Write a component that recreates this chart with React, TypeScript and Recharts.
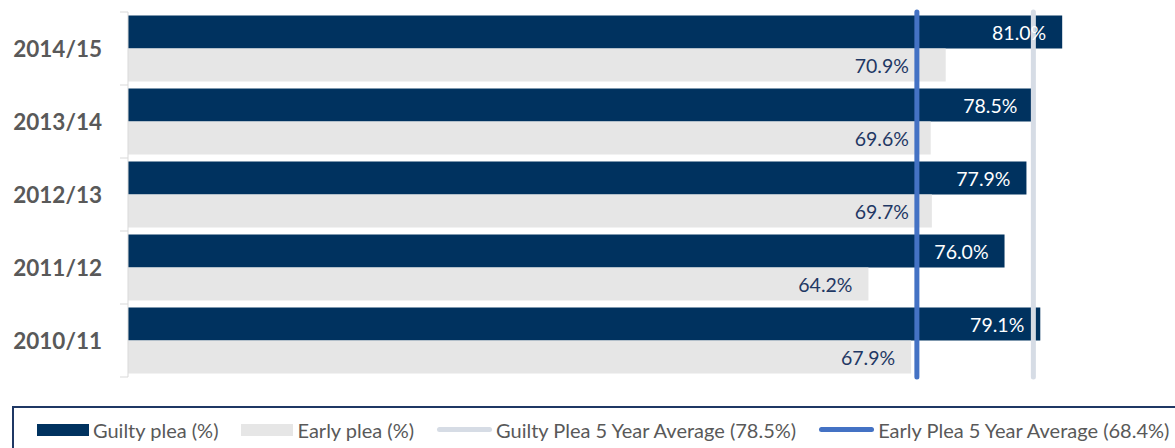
import React from 'react'
import { BarChart, Bar, XAxis, YAxis, ReferenceLine, LabelList, Legend } from 'recharts'

const YEARS = ['2014/15', '2013/14', '2012/13', '2011/12', '2010/11']
const GUILTY_PLEA = [81.0, 78.5, 77.9, 76.0, 79.1]
const EARLY_PLEA = [70.9, 69.6, 69.7, 64.2, 67.9]
const GUILTY_AVG = 78.5
const EARLY_AVG = 68.4

const COLORS = {
  guilty: '#00325F',
  early: '#E6E6E6',
  guiltyAvg: '#D6DCE5',
  earlyAvg: '#4472C4',
  axis: '#D9D9D9',
  text: '#595959',
  earlyLabel: '#1F3864',
}

const FONT = 'Lato, "Open Sans", sans-serif'

const WIDTH = 1175
const HEIGHT = 448
const MARGIN = { top: 12, right: 9, bottom: 29, left: 0 }
const LEGEND_H = 42
const Y_AXIS_W = 128
const X_MAX = 90

const data = YEARS.map((year, i) => ({
  year,
  guilty: GUILTY_PLEA[i],
  early: EARLY_PLEA[i],
}))

const plotH = HEIGHT - MARGIN.top - MARGIN.bottom - LEGEND_H
const bandHalf = plotH / YEARS.length / 2
const plotW = WIDTH - MARGIN.left - MARGIN.right - Y_AXIS_W
const earlyAvgX = MARGIN.left + Y_AXIS_W + (EARLY_AVG / X_MAX) * plotW

const fmt = (v: number) => `${v.toFixed(1)}%`

function YearTick(props: any) {
  const { x, y, payload, index } = props
  return (
    <g>
      <line x1={x - 8} x2={x} y1={y - bandHalf} y2={y - bandHalf} stroke={COLORS.axis} />
      {index === YEARS.length - 1 ? (
        <line x1={x - 8} x2={x} y1={y + bandHalf} y2={y + bandHalf} stroke={COLORS.axis} />
      ) : null}
      <text
        x={x - 26}
        y={y}
        textAnchor="end"
        dominantBaseline="central"
        fill={COLORS.text}
        fontSize={22.5}
        fontWeight={700}
        fontFamily={FONT}
      >
        {payload.value}
      </text>
    </g>
  )
}

// inside-end label; pushed left of the early average line if it would sit on it
function makeLabel(color: string, avoidLine: boolean) {
  return function BarLabel(props: any) {
    const { x, y, width, height, value } = props
    let end = x + width - 16
    if (avoidLine && end > earlyAvgX - 12 && end - 55 < earlyAvgX) {
      end = Math.min(end, earlyAvgX - 8)
    }
    return (
      <text
        x={end}
        y={y + height / 2}
        textAnchor="end"
        dominantBaseline="central"
        fill={color}
        fontSize={19.5}
        fontFamily={FONT}
      >
        {fmt(Number(value))}
      </text>
    )
  }
}

const LEGEND_ITEMS = [
  { label: 'Guilty plea (%)', color: COLORS.guilty, kind: 'rect' },
  { label: 'Early plea (%)', color: COLORS.early, kind: 'rect' },
  { label: `Guilty Plea 5 Year Average (${fmt(GUILTY_AVG)})`, color: COLORS.guiltyAvg, kind: 'line' },
  { label: `Early Plea 5 Year Average (${fmt(EARLY_AVG)})`, color: COLORS.earlyAvg, kind: 'line' },
]

function LegendBox() {
  return (
    <div
      style={{
        boxSizing: 'border-box',
        width: WIDTH,
        height: 60,
        borderTop: '2px solid #1F3864',
        borderLeft: '2px solid #1F3864',
        display: 'flex',
        alignItems: 'center',
        paddingLeft: 23,
        paddingBottom: 15,
        fontFamily: FONT,
        fontSize: 20,
        color: COLORS.text,
      }}
    >
      {LEGEND_ITEMS.map((item) => (
        <div key={item.label} style={{ display: 'flex', alignItems: 'center', marginRight: 23 }}>
          {item.kind === 'rect' ? (
            <span style={{ display: 'inline-block', width: 52, height: 12, background: item.color }} />
          ) : (
            <span
              style={{ display: 'inline-block', width: 55, height: 5, borderRadius: 3, background: item.color }}
            />
          )}
          <span style={{ marginLeft: 4, whiteSpace: 'nowrap' }}>{item.label}</span>
        </div>
      ))}
    </div>
  )
}

export default function App() {
  return (
    <div
      style={{
        position: 'absolute',
        left: 0,
        top: 0,
        width: WIDTH,
        height: HEIGHT,
        overflow: 'hidden',
        background: '#fff',
      }}
    >
      <BarChart
        width={WIDTH}
        height={HEIGHT}
        data={data}
        layout="vertical"
        margin={MARGIN}
        barCategoryGap={3.5}
        barGap={0}
      >
        <XAxis type="number" domain={[0, X_MAX]} hide />
        <YAxis
          type="category"
          dataKey="year"
          width={Y_AXIS_W}
          axisLine={{ stroke: COLORS.axis }}
          tickLine={false}
          tickSize={0}
          tickMargin={0}
          tick={<YearTick />}
        />
        <Bar dataKey="guilty" name="Guilty plea (%)" fill={COLORS.guilty} isAnimationActive={false}>
          <LabelList dataKey="guilty" content={makeLabel('#FFFFFF', false)} />
        </Bar>
        <Bar dataKey="early" name="Early plea (%)" fill={COLORS.early} isAnimationActive={false}>
          <LabelList dataKey="early" content={makeLabel(COLORS.earlyLabel, true)} />
        </Bar>
        <ReferenceLine x={EARLY_AVG} stroke={COLORS.earlyAvg} strokeWidth={5} strokeLinecap="round" />
        <ReferenceLine x={GUILTY_AVG} stroke={COLORS.guiltyAvg} strokeWidth={5} strokeLinecap="round" />
        <Legend
          verticalAlign="bottom"
          content={() => <LegendBox />}
          wrapperStyle={{ left: 12, top: 406, bottom: 'auto', width: WIDTH, height: LEGEND_H }}
        />
      </BarChart>
    </div>
  )
}
